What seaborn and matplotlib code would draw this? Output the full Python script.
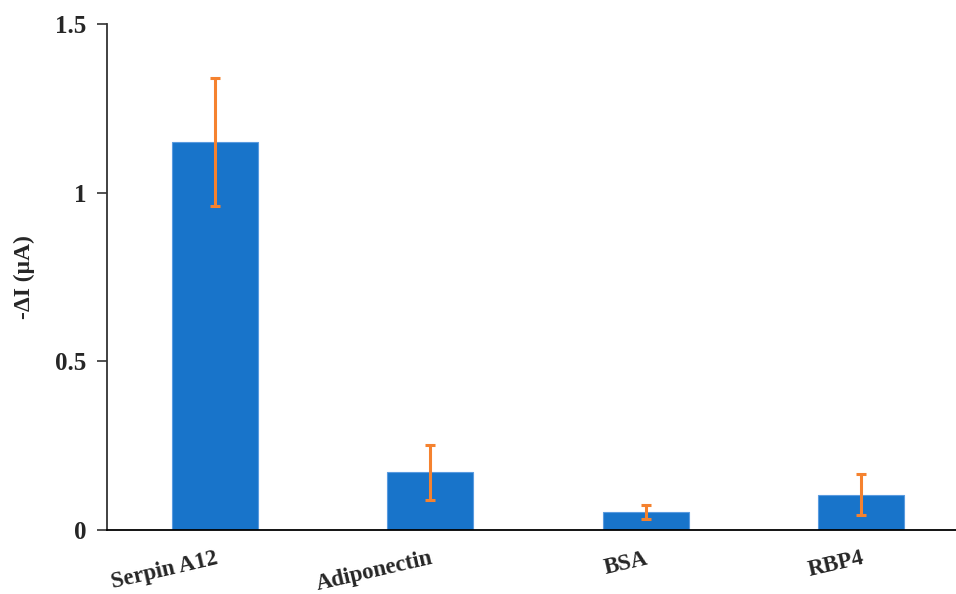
import matplotlib
matplotlib.use("Agg")
import matplotlib.pyplot as plt
import seaborn as sns
import pandas as pd

categories = ["Serpin A12", "Adiponectin", "BSA", "RBP4"]
values = [1.150, 0.171, 0.053, 0.105]
errors = [0.191, 0.081, 0.021, 0.061]
y_ticks = [0, 0.5, 1, 1.5]
y_tick_labels = ["0", "0.5", "1", "1.5"]

sns.set_theme(style="white")
plt.rcParams['font.family'] = ['Liberation Serif', 'DejaVu Serif']
plt.rcParams['font.weight'] = 'bold'

df = pd.DataFrame({"cat": categories, "val": values, "err": errors})

fig = plt.figure(figsize=(9.56, 5.94), dpi=100)
ax = fig.add_axes([107/956, 64/594, (956-107)/956, 506/594])

sns.barplot(data=df, x="cat", y="val", color="#1874CA", width=0.4,
            edgecolor="#5a9be0", linewidth=0.8, saturation=1, ax=ax)
ax.errorbar(range(len(categories)), df["val"], yerr=df["err"], fmt="none",
            ecolor="#F5822F", elinewidth=2.2, capsize=3.5, capthick=2.2, zorder=5)

ax.set_xlim(-0.5, (956-107)/215.5 - 0.5)
ax.set_ylim(0, 1.5)
ax.set_yticks(y_ticks)
ax.set_yticklabels(y_tick_labels, fontsize=18, fontweight='bold')
ax.set_xticks(range(len(categories)))
ax.set_xticklabels(categories, fontsize=16.5, fontweight='bold', rotation=13,
                   ha='right', rotation_mode='anchor')
ax.tick_params(axis='y', which='both', left=True, length=7, width=1.2, color='#333333', pad=8)
ax.tick_params(axis='x', which='both', bottom=False, length=0, pad=13)
ax.set_xlabel("")
ax.set_ylabel("-ΔI (μA)", fontsize=17, fontweight='bold', labelpad=14)

for s in ['top', 'right']:
    ax.spines[s].set_visible(False)
ax.spines['left'].set_color('#333333')
ax.spines['left'].set_linewidth(1.3)
ax.spines['bottom'].set_color('#000000')
ax.spines['bottom'].set_linewidth(1.3)

fig.savefig("out.png", dpi=100)
